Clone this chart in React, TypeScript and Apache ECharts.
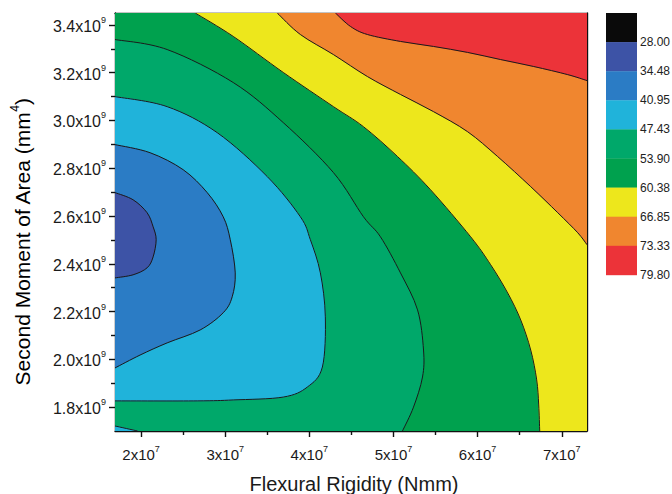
import React, { useEffect, useRef } from "react";
import * as echarts from "echarts";

// Axis extents
const X_MIN = 1.69e7;
const X_MAX = 7.3e7;
const Y_MIN = 1.7e9;
const Y_MAX = 3.45e9;

// Tick values
const xMajorTicks = [2e7, 3e7, 4e7, 5e7, 6e7, 7e7];
const xMinorTicks = [2.5e7, 3.5e7, 4.5e7, 5.5e7, 6.5e7];
const yMajorTicks = [1.8e9, 2.0e9, 2.2e9, 2.4e9, 2.6e9, 2.8e9, 3.0e9, 3.2e9, 3.4e9];
const yMinorTicks = [1.9e9, 2.1e9, 2.3e9, 2.5e9, 2.7e9, 2.9e9, 3.1e9, 3.3e9];

// Colour scale
const levelLabels = ["28.00", "34.48", "40.95", "47.43", "53.90", "60.38", "66.85", "73.33", "79.80"];
const levelColors = ["#0a0a0a", "#3d53a6", "#2b7cc5", "#20b3da", "#00a86a", "#00a14e", "#ede71c", "#f0862f", "#ec3339"];

// Contour lines: [Flexural rigidity (Nmm), Second moment (mm^4)]
const contour3448 = [
  [1.69e7, 2.698e9], [1.905e7, 2.668e9], [2.071e7, 2.614e9], [2.143e7, 2.555e9], [2.179e7, 2.501e9],
  [2.143e7, 2.429e9], [2.071e7, 2.383e9], [1.905e7, 2.354e9], [1.69e7, 2.341e9],
];
const contour4095 = [
  [1.69e7, 2.899e9], [2.107e7, 2.865e9], [2.5e7, 2.794e9], [2.786e7, 2.698e9], [2.976e7, 2.597e9],
  [3.06e7, 2.501e9], [3.119e7, 2.362e9], [3.083e7, 2.262e9], [2.976e7, 2.195e9], [2.702e7, 2.123e9],
  [2.31e7, 2.069e9], [1.988e7, 2.018e9], [1.69e7, 1.964e9],
];
const contour4743 = [
  [1.69e7, 3.1e9], [2.31e7, 3.058e9], [2.905e7, 2.949e9], [3.5e7, 2.765e9], [3.893e7, 2.597e9],
  [4.012e7, 2.501e9], [4.131e7, 2.362e9], [4.19e7, 2.178e9], [4.155e7, 1.968e9], [3.976e7, 1.884e9],
  [3.69e7, 1.842e9], [3.095e7, 1.83e9], [2.667e7, 1.826e9], [1.69e7, 1.826e9],
];
const contour4743Corner = [[1.69e7, 1.721e9], [1.96e7, 1.7e9]];
const contour5390 = [
  [1.69e7, 3.339e9], [2.31e7, 3.297e9], [3.095e7, 3.159e9], [3.69e7, 2.991e9], [4.286e7, 2.782e9],
  [4.643e7, 2.597e9], [4.845e7, 2.513e9], [5.083e7, 2.362e9], [5.286e7, 2.207e9], [5.357e7, 2.039e9],
  [5.345e7, 1.926e9], [5.238e7, 1.8e9], [5.107e7, 1.7e9],
];
const contour6038 = [
  [2.643e7, 3.45e9], [3.095e7, 3.352e9], [3.69e7, 3.201e9], [4.286e7, 3.058e9], [4.643e7, 2.974e9],
  [5.048e7, 2.849e9], [5.44e7, 2.71e9], [5.917e7, 2.513e9], [6.155e7, 2.396e9], [6.357e7, 2.278e9],
  [6.512e7, 2.165e9], [6.631e7, 2.039e9], [6.702e7, 1.914e9], [6.726e7, 1.809e9], [6.738e7, 1.7e9],
];
const contour6685 = [
  [3.619e7, 3.45e9], [3.893e7, 3.36e9], [4.286e7, 3.276e9], [4.69e7, 3.184e9], [5.083e7, 3.109e9],
  [5.476e7, 3.037e9], [5.881e7, 2.953e9], [6.238e7, 2.849e9], [6.631e7, 2.723e9], [6.952e7, 2.614e9],
  [7.19e7, 2.53e9], [7.3e7, 2.48e9],
];
const contour7333 = [
  [4.31e7, 3.45e9], [4.488e7, 3.394e9], [4.69e7, 3.36e9], [5.083e7, 3.331e9], [5.476e7, 3.31e9],
  [5.881e7, 3.285e9], [6.274e7, 3.255e9], [6.667e7, 3.226e9], [7.071e7, 3.192e9], [7.3e7, 3.167e9],
];

const FONT = "'Liberation Sans', Arial, Helvetica, sans-serif";

// Smooth curve through pixel points (Catmull-Rom as cubic Beziers)
function curvePath(px: number[][]): string {
  let d = `M${px[0][0]},${px[0][1]}`;
  for (let i = 0; i < px.length - 1; i++) {
    const p0 = px[Math.max(i - 1, 0)];
    const p1 = px[i];
    const p2 = px[i + 1];
    const p3 = px[Math.min(i + 2, px.length - 1)];
    const c1x = p1[0] + (p2[0] - p0[0]) / 6;
    const c1y = p1[1] + (p2[1] - p0[1]) / 6;
    const c2x = p2[0] - (p3[0] - p1[0]) / 6;
    const c2y = p2[1] - (p3[1] - p1[1]) / 6;
    d += ` C${c1x},${c1y} ${c2x},${c2y} ${p2[0]},${p2[1]}`;
  }
  return d;
}

export default function App() {
  const ref = useRef<HTMLDivElement>(null);

  useEffect(() => {
    if (!ref.current) return;
    const chart = echarts.init(ref.current, undefined, { renderer: "svg" });

    const BL = [X_MIN, Y_MIN], BR = [X_MAX, Y_MIN], TR = [X_MAX, Y_MAX], TL = [X_MIN, Y_MAX];
    const regions = [
      { color: levelColors[5], curve: [BL, BR], close: [TR, TL] },
      { color: levelColors[4], curve: contour5390, close: [BL] },
      { color: levelColors[3], curve: contour4743, close: [] as number[][] },
      { color: levelColors[2], curve: contour4095, close: [] as number[][] },
      { color: levelColors[1], curve: contour3448, close: [] as number[][] },
      { color: levelColors[3], curve: contour4743Corner, close: [BL] },
      { color: levelColors[6], curve: contour6038, close: [BR, TR] },
      { color: levelColors[7], curve: contour6685, close: [TR] },
      { color: levelColors[8], curve: contour7333, close: [TR] },
    ];
    const lines = [contour3448, contour4095, contour4743, contour4743Corner, contour5390, contour6038, contour6685, contour7333];

    const lineStyle = { color: "#111", width: 1.4 };
    const labelRich = (size: number) => ({
      b: { fontSize: size, lineHeight: size + 3, fontFamily: FONT, color: "#1a1a1a", verticalAlign: "bottom" },
      s: { fontSize: 9, lineHeight: 9, fontFamily: FONT, color: "#1a1a1a", verticalAlign: "top" },
    });
    const fmtX = (v: number) => `{b|${Math.round(v / 1e7)}x10}{s|7}`;
    const fmtY = (v: number) => `{b|${(v / 1e9).toFixed(1)}x10}{s|9}`;

    const titleRich = {
      b: { fontSize: 21, lineHeight: 24, fontFamily: FONT, color: "#1a1a1a", verticalAlign: "bottom" },
      s: { fontSize: 12, lineHeight: 12, fontFamily: FONT, color: "#1a1a1a", verticalAlign: "top" },
    };

    const graphic: any[] = [];
    const boxTop = 13, boxH = 29.1, boxX = 606, boxW = 31;
    levelColors.forEach((c, i) => {
      graphic.push({
        type: "rect",
        shape: { x: boxX, y: boxTop + i * boxH, width: boxW, height: boxH + 0.3 },
        style: { fill: c },
      });
    });
    levelLabels.forEach((t, i) => {
      graphic.push({
        type: "text",
        x: 640,
        y: boxTop + (i + 1) * boxH,
        style: { text: t, fontSize: 12, fontFamily: FONT, fill: "#222", align: "left", verticalAlign: "middle" },
      });
    });
    graphic.push({
      type: "text",
      x: 354,
      y: 484,
      style: { text: "Flexural Rigidity (Nmm)", fontSize: 20, fontFamily: FONT, fill: "#1a1a1a", align: "center", verticalAlign: "middle" },
    });
    graphic.push({
      type: "text",
      x: 21,
      y: 242,
      rotation: Math.PI / 2,
      style: {
        text: "{b|Second Moment of Area (mm}{s|4}{b|)}",
        rich: titleRich,
        align: "center",
        verticalAlign: "middle",
      },
    });

    const axisCommon = (min: number, max: number) => ({
      type: "value",
      min,
      max,
      splitLine: { show: false },
    });

    chart.setOption({
      animation: false,
      grid: { left: 115, top: 13, right: 85, bottom: 63, containLabel: false },
      xAxis: [
        {
          ...axisCommon(X_MIN, X_MAX),
          position: "bottom",
          axisLine: { show: true, onZero: false, lineStyle },
          axisTick: { show: true, inside: false, length: 6, customValues: xMajorTicks, lineStyle },
          axisLabel: { show: true, customValues: xMajorTicks, margin: 13, formatter: fmtX, rich: labelRich(15) },
        },
        {
          ...axisCommon(X_MIN, X_MAX),
          position: "bottom",
          axisLine: { show: false, onZero: false },
          axisTick: { show: true, inside: false, length: 4, customValues: xMinorTicks, lineStyle },
          axisLabel: { show: false },
        },
        {
          ...axisCommon(X_MIN, X_MAX),
          position: "top",
          axisLine: { show: true, onZero: false, lineStyle },
          axisTick: { show: true, inside: true, length: 5, customValues: [...xMajorTicks, ...xMinorTicks], lineStyle },
          axisLabel: { show: false },
        },
      ],
      yAxis: [
        {
          ...axisCommon(Y_MIN, Y_MAX),
          position: "left",
          axisLine: { show: true, onZero: false, lineStyle },
          axisTick: { show: true, inside: false, length: 6, customValues: yMajorTicks, lineStyle },
          axisLabel: { show: true, customValues: yMajorTicks, margin: 9, formatter: fmtY, rich: labelRich(16) },
        },
        {
          ...axisCommon(Y_MIN, Y_MAX),
          position: "left",
          axisLine: { show: false, onZero: false },
          axisTick: { show: true, inside: false, length: 4, customValues: yMinorTicks, lineStyle },
          axisLabel: { show: false },
        },
        {
          ...axisCommon(Y_MIN, Y_MAX),
          position: "right",
          axisLine: { show: true, onZero: false, lineStyle },
          axisTick: { show: true, inside: true, length: 5, customValues: [...yMajorTicks, ...yMinorTicks], lineStyle },
          axisLabel: { show: false },
        },
      ],
      series: [
        {
          type: "custom",
          xAxisIndex: 0,
          yAxisIndex: 0,
          z: 1,
          silent: true,
          clip: true,
          data: regions.map((r) => [r.curve[0][0], r.curve[0][1]]),
          renderItem: (params: any, api: any) => {
            const r = regions[params.dataIndex];
            let d = curvePath(r.curve.map((p) => api.coord(p)));
            r.close.forEach((p) => {
              const c = api.coord(p);
              d += ` L${c[0]},${c[1]}`;
            });
            d += " Z";
            return {
              type: "path",
              shape: { pathData: d },
              style: { fill: r.color, stroke: r.color, lineWidth: 0.6 },
            };
          },
        },
        {
          type: "custom",
          xAxisIndex: 0,
          yAxisIndex: 0,
          z: 3,
          silent: true,
          clip: true,
          data: lines.map((l) => [l[0][0], l[0][1]]),
          renderItem: (params: any, api: any) => {
            const l = lines[params.dataIndex];
            return {
              type: "path",
              shape: { pathData: curvePath(l.map((p) => api.coord(p))) },
              style: { fill: "none", stroke: "#1a1a1a", lineWidth: 1 },
            };
          },
        },
      ],
      graphic,
    } as any);

    return () => chart.dispose();
  }, []);

  return (
    <div
      ref={ref}
      style={{ position: "fixed", left: 0, top: 0, width: 672, height: 494, background: "#fff" }}
    />
  );
}
